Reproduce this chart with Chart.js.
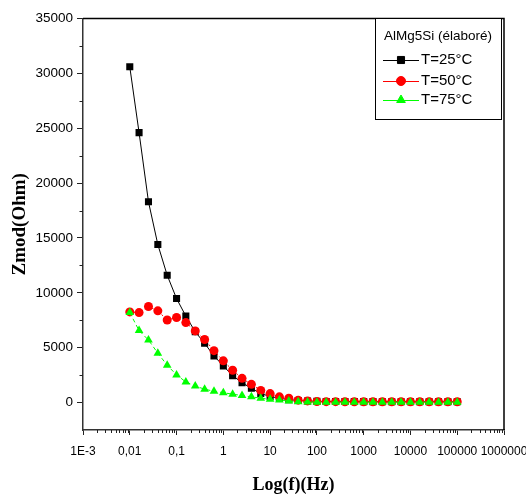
<!DOCTYPE html>
<html>
<head>
<meta charset="utf-8">
<script src="https://cdn.jsdelivr.net/npm/chart.js@4.4.0/dist/chart.umd.min.js"></script>
<style>
  html, body { margin: 0; padding: 0; background: #fff; }
  #wrap { width: 526px; height: 497px; }
</style>
</head>
<body>
<div id="wrap"><canvas id="chart" width="526" height="497"></canvas></div>
<script>
// frequencies (Hz)
const freqs = [0.01, 0.0158, 0.0251, 0.0398, 0.0631, 0.1, 0.158, 0.251, 0.398, 0.631,
  1, 1.58, 2.51, 3.98, 6.31, 10, 15.8, 25.1, 39.8, 63.1,
  100, 158, 251, 398, 631, 1000, 1580, 2510, 3980, 6310,
  10000, 15800, 25100, 39800, 63100, 100000];

// Zmod (Ohm)
const z25 = [30600, 24600, 18300, 14400, 11600, 9480, 7880, 6450, 5400, 4250,
  3340, 2450, 1810, 1300, 820, 560, 390, 270, 190, 140,
  110, 100, 95, 90, 90, 85, 85, 80, 80, 80,
  80, 80, 80, 80, 80, 80];
const z50 = [8260, 8200, 8750, 8360, 7520, 7750, 7290, 6530, 5750, 4730,
  3800, 2950, 2210, 1660, 1110, 820, 520, 390, 220, 150,
  90, 80, 80, 75, 75, 75, 70, 70, 70, 70,
  70, 70, 70, 70, 70, 70];
const z75 = [8200, 6560, 5700, 4500, 3400, 2520, 1880, 1500, 1220, 1030,
  900, 760, 650, 520, 400, 300, 230, 140, 80, 50,
  40, 40, 40, 40, 40, 40, 40, 40, 40, 40,
  40, 40, 40, 40, 40, 40];

const seriesNames = ["T=25°C", "T=50°C", "T=75°C"];
const legendTitle = "AlMg5Si (élaboré)";

const xTickValues = [0.001, 0.01, 0.1, 1, 10, 100, 1000, 10000, 100000, 1000000];
const xTickLabels = ["1E-3", "0,01", "0,1", "1", "10", "100", "1000", "10000", "100000", "1000000"];
const yTickValues = [0, 5000, 10000, 15000, 20000, 25000, 30000, 35000];

function toPoints(vals) {
  return freqs.map((f, i) => ({ x: f, y: vals[i] }));
}

// minor ticks + frame + in-plot legend
const extrasPlugin = {
  id: "extras",
  afterDraw(chart) {
    const ctx = chart.ctx;
    const a = chart.chartArea;
    const xs = chart.scales.x, ys = chart.scales.y;
    ctx.save();
    ctx.strokeStyle = "#222";
    ctx.lineWidth = 1;
    ctx.beginPath();
    // x minor ticks
    for (let e = -3; e < 6; e++) {
      for (let m = 2; m <= 9; m++) {
        const px = Math.round(xs.getPixelForValue(m * Math.pow(10, e))) + 0.5;
        ctx.moveTo(px, a.bottom);
        ctx.lineTo(px, a.bottom + 3);
      }
    }
    // y minor ticks
    for (let v = 2500; v < 35000; v += 5000) {
      const py = Math.round(ys.getPixelForValue(v)) + 0.5;
      ctx.moveTo(a.left, py);
      ctx.lineTo(a.left - 3.5, py);
    }
    ctx.stroke();

    // top and right frame
    ctx.strokeStyle = "#000";
    ctx.lineWidth = 1.5;
    ctx.beginPath();
    ctx.moveTo(a.left, a.top);
    ctx.lineTo(a.right, a.top);
    ctx.lineTo(a.right, a.bottom);
    ctx.stroke();

    // legend box
    const lx = 375.5, ly = a.top, lw = 126, lh = 101;
    ctx.fillStyle = "#fff";
    ctx.fillRect(lx, ly, lw, lh);
    ctx.strokeStyle = "#000";
    ctx.lineWidth = 1;
    ctx.strokeRect(lx, ly, lw, lh);
    ctx.fillStyle = "#000";
    ctx.textBaseline = "middle";
    ctx.textAlign = "left";
    ctx.font = "13.5px 'Liberation Sans', Arial, sans-serif";
    ctx.fillText(legendTitle, 384, 36);
    const rowY = [60, 81, 100];
    ctx.font = "15px 'Liberation Sans', Arial, sans-serif";
    chart.data.datasets.forEach((ds, i) => {
      const y = rowY[i];
      ctx.strokeStyle = ds.borderColor;
      ctx.lineWidth = 1;
      ctx.setLineDash([]);
      ctx.beginPath();
      ctx.moveTo(383, y + 0.5);
      ctx.lineTo(419, y + 0.5);
      ctx.stroke();
      ctx.fillStyle = ds.pointBackgroundColor;
      ctx.strokeStyle = ds.pointBackgroundColor;
      Chart.helpers.drawPoint(ctx, {
        pointStyle: ds.pointStyle, radius: ds.pointRadius, rotation: 0, borderWidth: 1
      }, 401, y);
      ctx.fillStyle = "#000";
      ctx.fillText(ds.label, 421, y);
    });
    ctx.restore();
  }
};

const ctx = document.getElementById("chart").getContext("2d");
const chart = new Chart(ctx, {
  type: "scatter",
  data: {
    datasets: [
      {
        label: seriesNames[0],
        data: toPoints(z25),
        showLine: true,
        borderColor: "#000",
        borderWidth: 1,
        pointStyle: "rect",
        pointRadius: 5,
        pointBackgroundColor: "#000",
        pointBorderColor: "#000",
        pointBorderWidth: 0,
        order: 3
      },
      {
        label: seriesNames[1],
        data: toPoints(z50),
        showLine: true,
        borderColor: "#ff0000",
        borderWidth: 1,
        borderDash: [2, 2],
        pointStyle: "circle",
        pointRadius: 4.5,
        pointBackgroundColor: "#ff0000",
        pointBorderColor: "#ff0000",
        pointBorderWidth: 0,
        order: 2
      },
      {
        label: seriesNames[2],
        data: toPoints(z75),
        showLine: true,
        borderColor: "#00ff00",
        borderWidth: 1,
        borderDash: [4, 3],
        pointStyle: "triangle",
        pointRadius: 5,
        pointBackgroundColor: "#00ff00",
        pointBorderColor: "#00ff00",
        pointBorderWidth: 0,
        order: 1
      }
    ]
  },
  options: {
    responsive: false,
    animation: false,
    layout: { padding: { left: 0, right: 0, top: 18.5, bottom: 0 } },
    plugins: { legend: { display: false }, tooltip: { enabled: false } },
    scales: {
      x: {
        type: "logarithmic",
        min: 0.001,
        max: 1000000,
        afterBuildTicks: (s) => { s.ticks = xTickValues.map(v => ({ value: v })); },
        afterFit: (s) => { s.height = 67; s.paddingRight = 22; s.paddingLeft = 0; },
        ticks: {
          autoSkip: false,
          maxRotation: 0,
          padding: 9,
          color: "#000",
          font: { family: "'Liberation Sans', Arial, sans-serif", size: 12 },
          callback: (v, i) => xTickLabels[i]
        },
        grid: { display: true, drawOnChartArea: false, drawTicks: true, tickLength: 5, tickColor: "#222", tickWidth: 1 },
        border: { display: true, color: "#333", width: 1.5 },
        title: {
          display: true,
          text: "Log(f)(Hz)",
          color: "#000",
          font: { family: "'Liberation Serif', 'Times New Roman', serif", size: 18, weight: "bold" },
          padding: { top: 0, bottom: 1 }
        }
      },
      y: {
        type: "linear",
        min: -2500,
        max: 35000,
        afterBuildTicks: (s) => { s.ticks = yTickValues.map(v => ({ value: v })); },
        afterFit: (s) => { s.width = 83; },
        ticks: {
          padding: 4,
          color: "#000",
          font: { family: "'Liberation Sans', Arial, sans-serif", size: 13.5 },
          callback: (v) => String(v)
        },
        grid: { display: true, drawOnChartArea: false, drawTicks: true, tickLength: 6, tickColor: "#222", tickWidth: 1 },
        border: { display: true, color: "#333", width: 1.5 },
        title: {
          display: true,
          text: "Zmod(Ohm)",
          color: "#000",
          font: { family: "'Liberation Serif', 'Times New Roman', serif", size: 19, weight: "bold" },
          padding: { top: 9, bottom: 0 }
        }
      }
    }
  },
  plugins: [extrasPlugin]
});
</script>
</body>
</html>
